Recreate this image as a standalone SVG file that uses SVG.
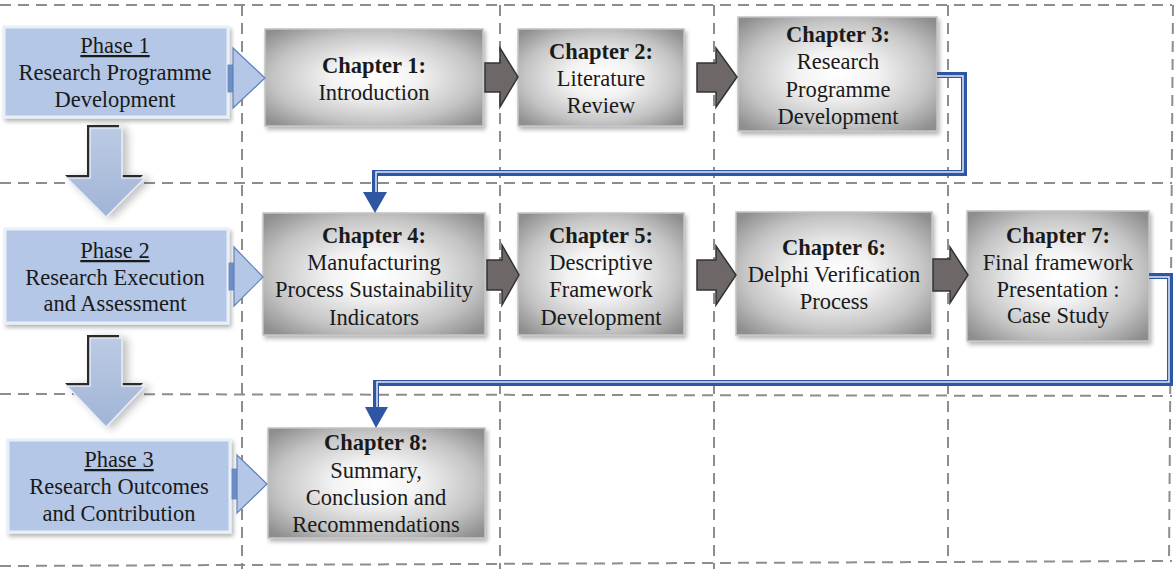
<svg xmlns="http://www.w3.org/2000/svg" width="1175" height="569" viewBox="0 0 1175 569">
  <defs>
    <radialGradient id="chapFill" cx="50%" cy="50%" r="66%">
      <stop offset="0" stop-color="#ffffff"/>
      <stop offset="0.3" stop-color="#f3f3f3"/>
      <stop offset="0.7" stop-color="#c4c4c4"/>
      <stop offset="1" stop-color="#8e8e8e"/>
    </radialGradient>
    <linearGradient id="downFill" x1="0" y1="0" x2="0" y2="1">
      <stop offset="0" stop-color="#bccbe4"/>
      <stop offset="1" stop-color="#a1b4d6"/>
    </linearGradient>
    <filter id="softShadow" x="-10%" y="-10%" width="125%" height="130%">
      <feGaussianBlur in="SourceAlpha" stdDeviation="2"/>
      <feOffset dx="2" dy="3" result="b"/>
      <feComponentTransfer><feFuncA type="linear" slope="0.3"/></feComponentTransfer>
      <feMerge><feMergeNode/><feMergeNode in="SourceGraphic"/></feMerge>
    </filter>
    <filter id="arrowShadow" x="-30%" y="-30%" width="170%" height="170%">
      <feGaussianBlur in="SourceAlpha" stdDeviation="4"/>
      <feOffset dx="5" dy="2" result="b"/>
      <feComponentTransfer><feFuncA type="linear" slope="0.25"/></feComponentTransfer>
      <feMerge><feMergeNode/><feMergeNode in="SourceGraphic"/></feMerge>
    </filter>
  </defs>
  <style>
    .grid { stroke: #8d8d8d; stroke-width: 2; stroke-dasharray: 11 7; fill: none; }
    .phase { fill: #b4c7e7; stroke: #e8eff9; stroke-width: 3; }
    .chap { fill: url(#chapFill); stroke: #c4c4c4; stroke-width: 1.5; }
    .t { font-family: "Liberation Serif", "Times New Roman", serif; font-size: 22.5px; fill: #1a1a1a; text-anchor: middle; }
    .b { font-weight: bold; }
    .u { text-decoration: underline; }
    .gray { fill: #6d6767; stroke: #333333; stroke-width: 1.5; stroke-linejoin: miter; }
    .tri { fill: #b4c7e7; stroke: #5f82bd; stroke-width: 1.2; }
    .stub { fill: #6e8fc6; stroke: #5f82bd; stroke-width: 0.8; }
    .down { fill: url(#downFill); stroke: #e4ebf6; stroke-width: 1.5; }
    .downDark { fill: #2a2a2a; }
    .link { fill: none; stroke: #2f56a3; stroke-width: 6; }
    .linkIn { fill: none; stroke: #e3e9f6; stroke-width: 1.5; }
    .head { fill: #2f56a3; }
  </style>

  <!-- dashed layout grid -->
  <g id="grid">
    <line class="grid" x1="0" y1="5" x2="1172" y2="5"/>
    <line class="grid" x1="0" y1="183" x2="1172" y2="183"/>
    <line class="grid" x1="0" y1="394" x2="1172" y2="396"/>
    <line class="grid" x1="0" y1="566" x2="1172" y2="561"/>
    <line class="grid" x1="242" y1="5" x2="242" y2="569"/>
    <line class="grid" x1="500" y1="5" x2="500" y2="569"/>
    <line class="grid" x1="714" y1="5" x2="714" y2="569"/>
    <line class="grid" x1="948" y1="5" x2="948" y2="563"/>
    <line class="grid" x1="1173" y1="5" x2="1169" y2="562"/>
  </g>

  <!-- phase column -->
  <g id="phase1">
    <rect class="phase" x="4" y="27" width="224" height="90" filter="url(#softShadow)"/>
    <text class="t u" x="115" y="53">Phase 1</text>
    <text class="t" x="115" y="80">Research Programme</text>
    <text class="t" x="115" y="107">Development</text>
  </g>
  <g id="phase2">
    <rect class="phase" x="5" y="229" width="223" height="94" filter="url(#softShadow)"/>
    <text class="t u" x="115" y="258">Phase 2</text>
    <text class="t" x="115" y="285">Research Execution</text>
    <text class="t" x="115" y="311">and Assessment</text>
  </g>
  <g id="phase3">
    <rect class="phase" x="8" y="440" width="222" height="92" filter="url(#softShadow)"/>
    <text class="t u" x="119" y="467">Phase 3</text>
    <text class="t" x="119" y="494">Research Outcomes</text>
    <text class="t" x="119" y="521">and Contribution</text>
  </g>

  <!-- chapter boxes -->
  <g id="chapter1">
    <rect class="chap" x="265" y="29" width="218" height="97" filter="url(#softShadow)"/>
    <text class="t b" x="374" y="73">Chapter 1:</text>
    <text class="t" x="374" y="100">Introduction</text>
  </g>
  <g id="chapter2">
    <rect class="chap" x="518" y="29" width="166" height="97" filter="url(#softShadow)"/>
    <text class="t b" x="601" y="59">Chapter 2:</text>
    <text class="t" x="601" y="86">Literature</text>
    <text class="t" x="601" y="113">Review</text>
  </g>
  <g id="chapter3">
    <rect class="chap" x="738" y="17" width="199" height="114" filter="url(#softShadow)"/>
    <text class="t b" x="838" y="42">Chapter 3:</text>
    <text class="t" x="838" y="69">Research</text>
    <text class="t" x="838" y="97">Programme</text>
    <text class="t" x="838" y="124">Development</text>
  </g>
  <g id="chapter4">
    <rect class="chap" x="263" y="213" width="222" height="122" filter="url(#softShadow)"/>
    <text class="t b" x="374" y="243">Chapter 4:</text>
    <text class="t" x="374" y="270">Manufacturing</text>
    <text class="t" x="374" y="297">Process Sustainability</text>
    <text class="t" x="374" y="325">Indicators</text>
  </g>
  <g id="chapter5">
    <rect class="chap" x="518" y="213" width="166" height="122" filter="url(#softShadow)"/>
    <text class="t b" x="601" y="243">Chapter 5:</text>
    <text class="t" x="601" y="270">Descriptive</text>
    <text class="t" x="601" y="297">Framework</text>
    <text class="t" x="601" y="325">Development</text>
  </g>
  <g id="chapter6">
    <rect class="chap" x="736" y="212" width="196" height="123" filter="url(#softShadow)"/>
    <text class="t b" x="834" y="255">Chapter 6:</text>
    <text class="t" x="834" y="282">Delphi Verification</text>
    <text class="t" x="834" y="309">Process</text>
  </g>
  <g id="chapter7">
    <rect class="chap" x="967" y="211" width="182" height="130" filter="url(#softShadow)"/>
    <text class="t b" x="1058" y="243">Chapter 7:</text>
    <text class="t" x="1058" y="270">Final framework</text>
    <text class="t" x="1058" y="297">Presentation :</text>
    <text class="t" x="1058" y="323">Case Study</text>
  </g>
  <g id="chapter8">
    <rect class="chap" x="268" y="428" width="217" height="110" filter="url(#softShadow)"/>
    <text class="t b" x="376" y="450">Chapter 8:</text>
    <text class="t" x="376" y="478">Summary,</text>
    <text class="t" x="376" y="505">Conclusion and</text>
    <text class="t" x="376" y="532">Recommendations</text>
  </g>

  <!-- connectors -->
  <g id="connectors">
    <!-- phase to chapter pointers -->
    <rect class="stub" x="228" y="65" width="5" height="27"/>
    <polygon class="tri" points="233,48 265,78 233,108"/>
    <rect class="stub" x="229" y="263" width="5" height="27"/>
    <polygon class="tri" points="234,247 263,277 234,306"/>
    <rect class="stub" x="232" y="469" width="5" height="30"/>
    <polygon class="tri" points="237,455 267,484 237,513"/>

    <!-- phase to phase block arrows -->
    <g filter="url(#arrowShadow)">
      <polygon class="downDark" points="87,125 119,125 119,175 143,175 104,214 65,175 87,175"/>
      <polygon class="down" points="90,128 122,128 122,178 145,178 106,217 67,178 90,178"/>
    </g>
    <g filter="url(#arrowShadow)">
      <polygon class="downDark" points="87,335 119,335 119,383 143,383 104,424 65,383 87,383"/>
      <polygon class="down" points="90,338 122,338 122,386 145,386 106,427 67,386 90,386"/>
    </g>

    <!-- chapter to chapter block arrows -->
    <path class="gray" d="M485,63 H500 V48 L518,77 L500,107 V92 H485 Z"/>
    <path class="gray" d="M697,63 H716 V48 L737,77 L716,107 V92 H697 Z"/>
    <path class="gray" d="M487,260 H502 V245 L519,275 L502,305 V290 H487 Z"/>
    <path class="gray" d="M697,260 H716 V246 L736,275 L716,305 V290 H697 Z"/>
    <path class="gray" d="M933,259 H950 V247 L968,275 L950,303 V291 H933 Z"/>

    <!-- row to row links -->
    <path class="link" d="M937,75 H964 V173 H375 V194"/>
    <path class="linkIn" d="M937,76 H963 V172 H376 V194"/>
    <polygon class="head" points="363,192 387,192 375,213"/>

    <path class="link" d="M1149,276 H1170 V383 H376 V409"/>
    <path class="linkIn" d="M1149,277 H1169 V382 H377 V409"/>
    <polygon class="head" points="365,407 388,407 376,428"/>
  </g>
</svg>
